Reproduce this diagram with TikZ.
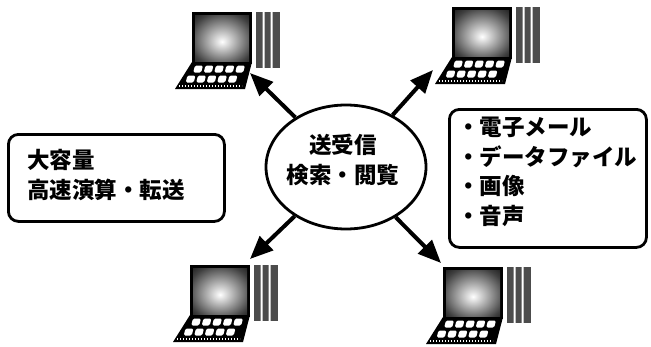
\documentclass[tikz,border=0pt]{standalone}
\usepackage{fontspec}
\newfontfamily\jp{Noto Sans CJK JP}
\usetikzlibrary{arrows.meta,shapes.geometric}

% screen glow: light centre fading to a black bezel
\pgfdeclareradialshading{screenglow}{\pgfpoint{0bp}{-4bp}}{%
  color(0bp)=(white); color(14bp)=(black!35); color(30bp)=(black!75);
  color(42bp)=(black!95); color(50bp)=(black)}

\tikzset{
  jptext/.style={font=\jp\bfseries\fontsize{22.5}{29.5}\selectfont, align=left, inner sep=0pt},
  roundbox/.style={draw, line width=2.8pt, rounded corners=10pt, anchor=north west, inner sep=0pt},
  hub/.style={draw, ellipse, line width=2.8pt, inner sep=0pt},
  link/.style={line width=4pt, -{Triangle[length=23pt,width=19pt]}},
  computer/.pic={
    % monitor with shaded screen
    \fill[black] (0,0) rectangle (60,52);
    \shade[shading=screenglow] (3,3) rectangle (57,49);
    % striped tower unit
    \fill[black!70] (64,0) rectangle (88,56);
    \fill[white] (70.5,0) rectangle (72.5,56) (78.5,0) rectangle (80.5,56);
    % keyboard
    \fill[black] (0,50) -- (60,50) -- (53,77) -- (-17,77) -- cycle;
    \foreach \c in {0,...,4}{
      \fill[white, rounded corners=1.5pt] ({3+\c*10.5},53.5) -- ++(8,0) -- ++(-1.8,7) -- ++(-8,0) -- cycle;
      \fill[white, rounded corners=1.5pt] ({-4.5+\c*10.5},63.5) -- ++(8,0) -- ++(-1.8,7) -- ++(-8,0) -- cycle;
    }
    \draw[white, line width=1.3pt, dash pattern=on 1.3pt off 1.7pt] (-13,74) -- (50,74);
  }
}

\begin{document}
\begin{tikzpicture}[x=1pt,y=-1pt]
  \useasboundingbox (0,0) rectangle (651,346);

  % four terminals
  \pic (pcTL) at (192,12) {computer};
  \pic (pcTR) at (452,7) {computer};
  \pic (pcBL) at (190,265) {computer};
  \pic (pcBR) at (443,267) {computer};

  % central exchange
  \node[hub, minimum width=160pt, minimum height=124pt] (hub) at (346,167) {};
  \node[jptext, align=center] (hubtext) at (343,160) {送受信\\検索・閲覧};

  % arrows out to the terminals
  \coordinate (tipTL) at (250,73);
  \coordinate (tipTR) at (433,70);
  \coordinate (tipBL) at (250,259);
  \coordinate (tipBR) at (441,263);
  \draw[link] (hub) -- (tipTL);
  \draw[link] (hub) -- (tipTR);
  \draw[link] (hub) -- (tipBL);
  \draw[link] (hub) -- (tipBR);

  % left box
  \node[roundbox, minimum width=216pt, minimum height=87pt] (leftbox) at (7,133) {};
  \node[jptext, anchor=west] (lefttext) at (27,175) {大容量\\高速演算・転送};

  % right box
  \node[roundbox, minimum width=197pt, minimum height=138pt] (rightbox) at (448,108) {};
  \node[jptext, anchor=west] (righttext) at (457,172) {・電子メール\\・データファイル\\・画像\\・音声};
\end{tikzpicture}
\end{document}
